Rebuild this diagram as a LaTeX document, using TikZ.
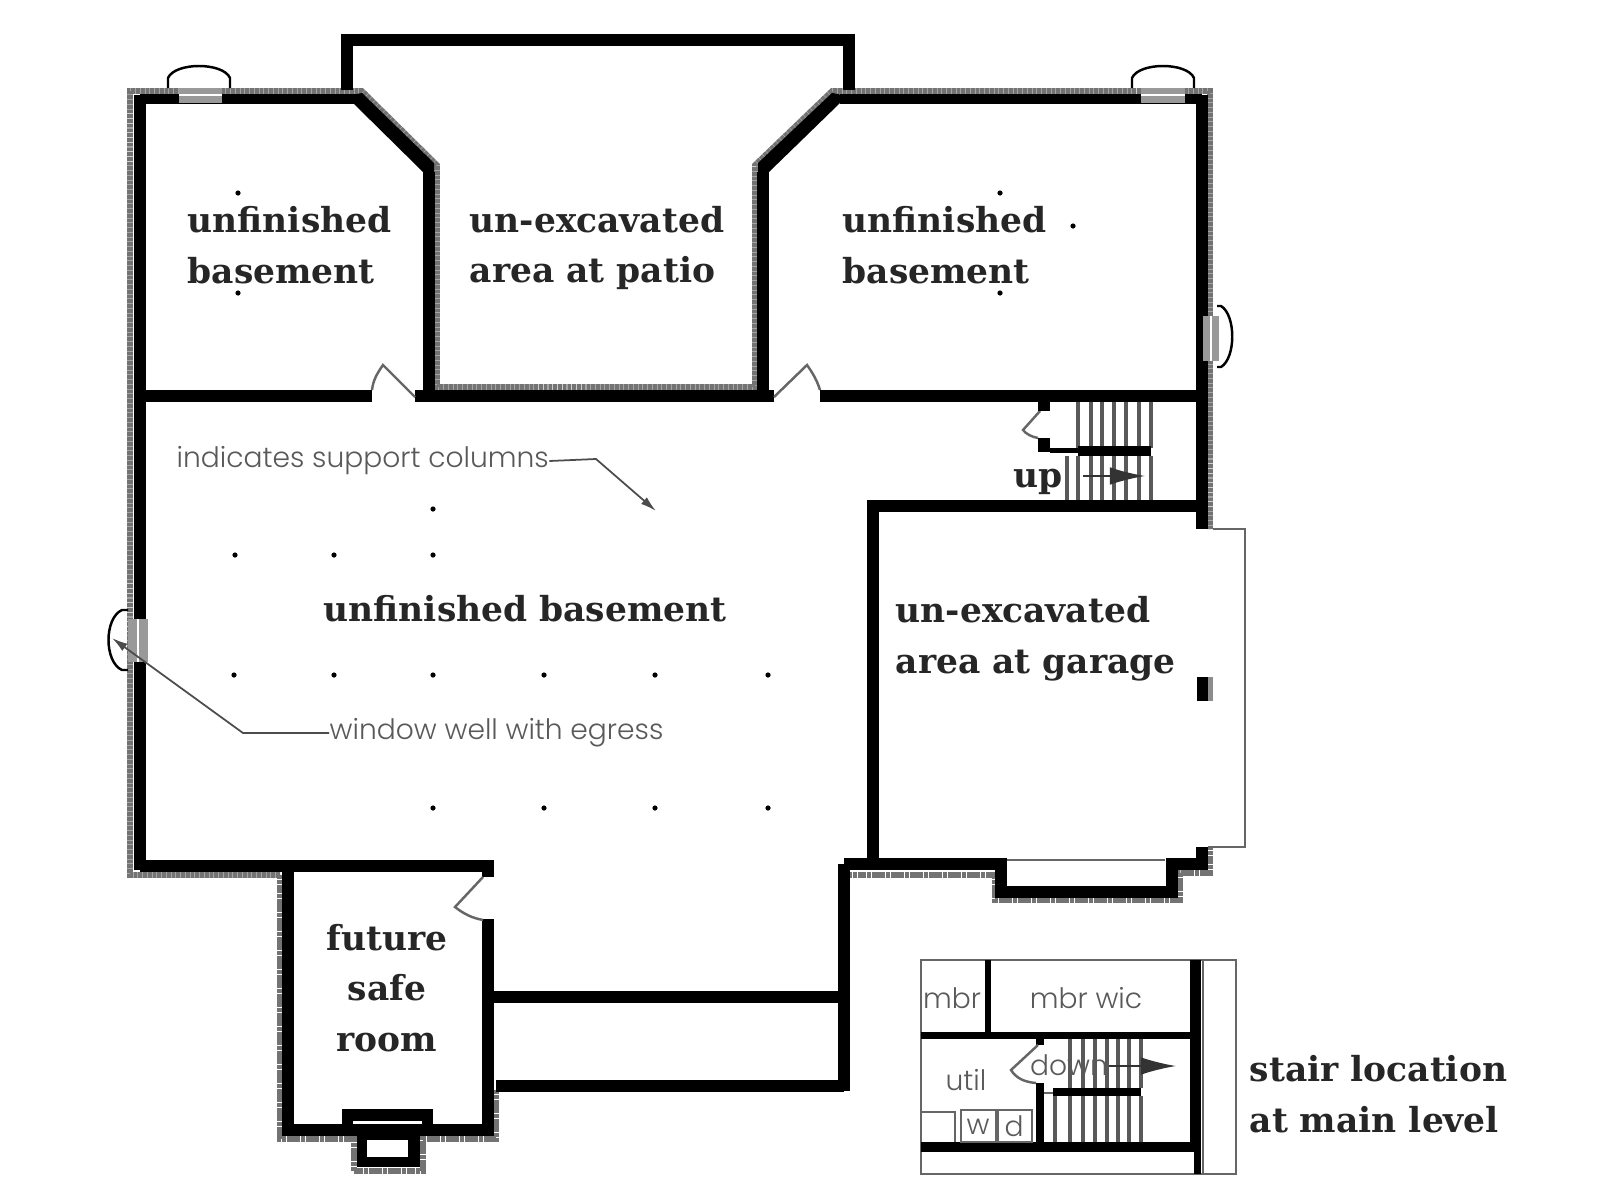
\documentclass[tikz,border=0pt]{standalone}
\usepackage{fontspec}
\usepackage{tikz}
\usetikzlibrary{positioning, arrows.meta}
\newfontfamily\slabfont{DejaVu Serif}
\newfontfamily\thinfont{Poppins Light}

\begin{document}
\begin{tikzpicture}[
    x=0.01cm, y=-0.01cm,
    wall/.style={draw=black, line width=3.2pt, miter limit=10},
    thinwall/.style={draw=black, line width=2.7pt},
    shade_wall/.style={draw=black!55, line width=1.6pt, dash pattern=on 1.2pt off 0.15pt},
    thin_line/.style={draw=black!60, line width=0.7pt},
    tread/.style={draw=black!65, line width=0.9pt},
    room/.style={font=\slabfont\bfseries\fontsize{9.8}{14.4}\selectfont, text=black!85, align=left, inner sep=0pt, anchor=west},
    note/.style={font=\thinfont\fontsize{8}{9}\selectfont, text=black!65, inner sep=0pt},
    leader/.style={draw=black!70, line width=0.5pt, -{Latex[length=4.5pt, width=2.5pt]}},
    stair_arrow/.style={draw=black!80, line width=0.5pt, -{Latex[length=10pt, width=5pt]}},
    column/.style={fill=black}
]
\useasboundingbox (0,0) rectangle (1600,1200);

%%%%% Shaded outer face of the walls
\draw[shade_wall] (280,875) -- (130,875) -- (130,91) -- (362,91) -- (437,165) -- (437,387)
    -- (755,387) -- (755,165) -- (832,91) -- (1210,91) -- (1210,529);
\draw[shade_wall] (848,875) -- (995,875) -- (995,900) -- (1180,900) -- (1180,873) -- (1210,873) -- (1210,847);
\draw[shade_wall] (280,875) -- (280,1139) -- (354,1139) -- (354,1171) -- (423,1171) -- (423,1139)
    -- (496,1139) -- (496,1090);

%%%%% Main walls
\draw[thinwall] (140,99) -- (355,99);
\draw[thinwall] (840,99) -- (1202,99);
\fill[black] (351,95) -- (362,93) -- (434,163) -- (434,172) -- (423,172) -- (353,103) -- cycle;
\fill[black] (843,95) -- (832,93) -- (758,163) -- (758,172) -- (769,172) -- (840,103) -- cycle;
\draw[wall] (140,95) -- (140,870);
\draw[wall] (1202,95) -- (1202,529);
\draw[wall] (429,172) -- (429,396);
\draw[wall] (763,172) -- (763,396);
\draw[wall] (347,90) -- (347,40) -- (849,40) -- (849,90);
\draw[wall] (140,396) -- (372,396);
\draw[wall] (415,396) -- (774,396);
\draw[wall] (820,396) -- (1202,396);

% Garage
\draw[wall] (1202,506) -- (873,506) -- (873,864);
\draw[wall] (844,864) -- (1001,864) -- (1001,892) -- (1172,892) -- (1172,864) -- (1202,864) -- (1202,847);
\draw[thin_line] (1213,529) -- (1245,529) -- (1245,847) -- (1208,847);
\draw[thin_line] (1007,860) -- (1165,860);
\fill[black] (1197,677) rectangle (1208,701);
\fill[black!45] (1208,677) rectangle (1213,701);

% Corridor and safe room
\draw[wall] (844,864) -- (844,1091);
\draw[wall] (488,997) -- (844,997);
\draw[wall] (496,1086) -- (844,1086);
\draw[wall] (140,866) -- (488,866) -- (488,877);
\draw[wall] (488,919) -- (488,1130) -- (288,1130) -- (288,866);
\fill[black] (342,1109) rectangle (433,1125);
\fill[white] (353,1121) rectangle (422,1124);
\fill[black] (357,1130) rectangle (420,1167);
\fill[white] (367,1140) rectangle (408,1157);

%%%%% Windows and wells
\fill[black!40] (179,88) rectangle (222,103);
\fill[white] (179,94) rectangle (222,96);
\draw[thin_line, black] (168,88) -- (168,78) .. controls (175,62) and (223,62) .. (230,78) -- (230,88);
\fill[black!40] (1141,88) rectangle (1185,103);
\fill[white] (1141,94) rectangle (1185,96);
\draw[thin_line, black] (1132,88) -- (1132,78) .. controls (1139,62) and (1187,62) .. (1194,78) -- (1194,88);
\fill[black!40] (1203,316) rectangle (1219,361);
\fill[white] (1210,316) rectangle (1212,361);
\draw[thin_line, black] (1217,306) -- (1221,306) .. controls (1236,315) and (1236,358) .. (1221,367) -- (1217,367);
\fill[black!40] (128,619) rectangle (148,662);
\fill[white] (137,619) rectangle (139,662);
\draw[thin_line, black] (128,610) -- (122,610) .. controls (104,618) and (104,662) .. (122,670) -- (128,670);

%%%%% Doors
\draw[thin_line] (372,390) .. controls (373,380) and (378,372) .. (383,365) -- (415,397);
\draw[thin_line] (774,397) -- (807,365) .. controls (812,372) and (817,380) .. (820,390);
\draw[thin_line] (483,877) -- (455,907) .. controls (464,914) and (472,918) .. (483,920);
\draw[thin_line] (1040,411) -- (1023,430) .. controls (1026,434) and (1032,437) .. (1038,438);

%%%%% Stair up
\foreach \tx in {1078,1091,1102,1114,1126,1139,1151}
    \draw[tread] (\tx,402) -- (\tx,448);
\foreach \tx in {1067,1078,1091,1102,1114,1126,1139,1151}
    \draw[tread] (\tx,456) -- (\tx,500);
\fill[black] (1038,402) rectangle (1050,411);
\fill[black] (1038,438) rectangle (1050,452);
\fill[black] (1050,448) rectangle (1078,453);
\fill[black] (1078,446) rectangle (1151,456);
\coordinate (up_a) at (1083,476);
\coordinate (up_b) at (1145,476);
\draw[stair_arrow] (up_a) -- (up_b);

%%%%% Support columns
\foreach \cx/\cy in {433/509, 235/555, 334/555, 433/555, 234/675, 334/675, 433/675, 544/675, 655/675, 768/675,
    433/808, 544/808, 655/808, 768/808, 238/193, 238/293, 1000/193, 1000/293, 1073/226}
    \fill[column] (\cx,\cy) circle (2.6);

%%%%% Room names
\node[room] (basement_a) at (187,245) {unfinished\\basement};
\node[room] (patio)      at (469,248) {un-excavated\\area at patio};
\node[room] (basement_b) at (842,245) {unfinished\\basement};
\node[room] (basement_c) at (323,609) {unfinished basement};
\node[room] (garage)     at (895,639) {un-excavated\\area at garage};
\node[room, align=center, anchor=center] (safe) at (387,988) {future\\safe\\room};
\node[room] (up_label) at (1013,482) {up};
\node[room] (stair_label) at (1249,1094) {stair location\\at main level};

%%%%% Notes with leaders
\node[note, anchor=west] (cols_note) at (176,461) {indicates support columns};
\node[note, anchor=west] (well_note) at (329,733) {window well with egress};
\coordinate (cols_tip) at (656,511);
\coordinate (cols_bend) at (596,459);
\coordinate (well_tip) at (112,638);
\coordinate (well_bend) at (243,733);
\draw[leader] (cols_note.east) -- (cols_bend) -- (cols_tip);
\draw[leader] (well_note.west) -- (well_bend) -- (well_tip);

%%%%% Stair location inset
\draw[thin_line] (921,960) rectangle (1236,1174);
\fill[black] (985,960) rectangle (991,1032);
\fill[black] (921,1032) rectangle (1190,1039);
\fill[black] (1190,960) rectangle (1201,1142);
\fill[black] (1194,1142) rectangle (1201,1174);
\draw[thin_line] (1203,960) -- (1203,1174);
\fill[black] (921,1142) rectangle (1196,1152);
\fill[black] (1036,1039) rectangle (1044,1045);
\fill[black] (1036,1083) rectangle (1044,1142);
\draw[thin_line] (1038,1045) -- (1011,1070) .. controls (1016,1078) and (1024,1082) .. (1036,1083);
\foreach \tx in {1070,1083,1095,1107,1118,1129,1141}
    \draw[tread] (\tx,1039) -- (\tx,1088);
\foreach \tx in {1055,1070,1083,1095,1107,1118,1129,1141}
    \draw[tread] (\tx,1096) -- (\tx,1142);
\fill[black] (1053,1088) rectangle (1141,1096);
\draw[thin_line] (1044,1093) -- (1053,1093);
\draw[thin_line] (921,1112) -- (955,1112) -- (955,1142);
\draw[thin_line] (961,1110) rectangle (996,1142);
\draw[thin_line] (998,1110) rectangle (1032,1142);
\coordinate (down_a) at (1109,1066);
\coordinate (down_b) at (1176,1066);
\draw[stair_arrow] (down_a) -- (down_b);
\node[note] (mbr_a) at (952,998) {mbr};
\node[note] (mbr_b) at (1086,998) {mbr wic};
\node[note] (util) at (966,1080) {util};
\node[note] (down) at (1069,1065) {down};
\node[note] (washer) at (978,1127) {w};
\node[note] (dryer) at (1014,1126) {d};

\end{tikzpicture}
\end{document}
